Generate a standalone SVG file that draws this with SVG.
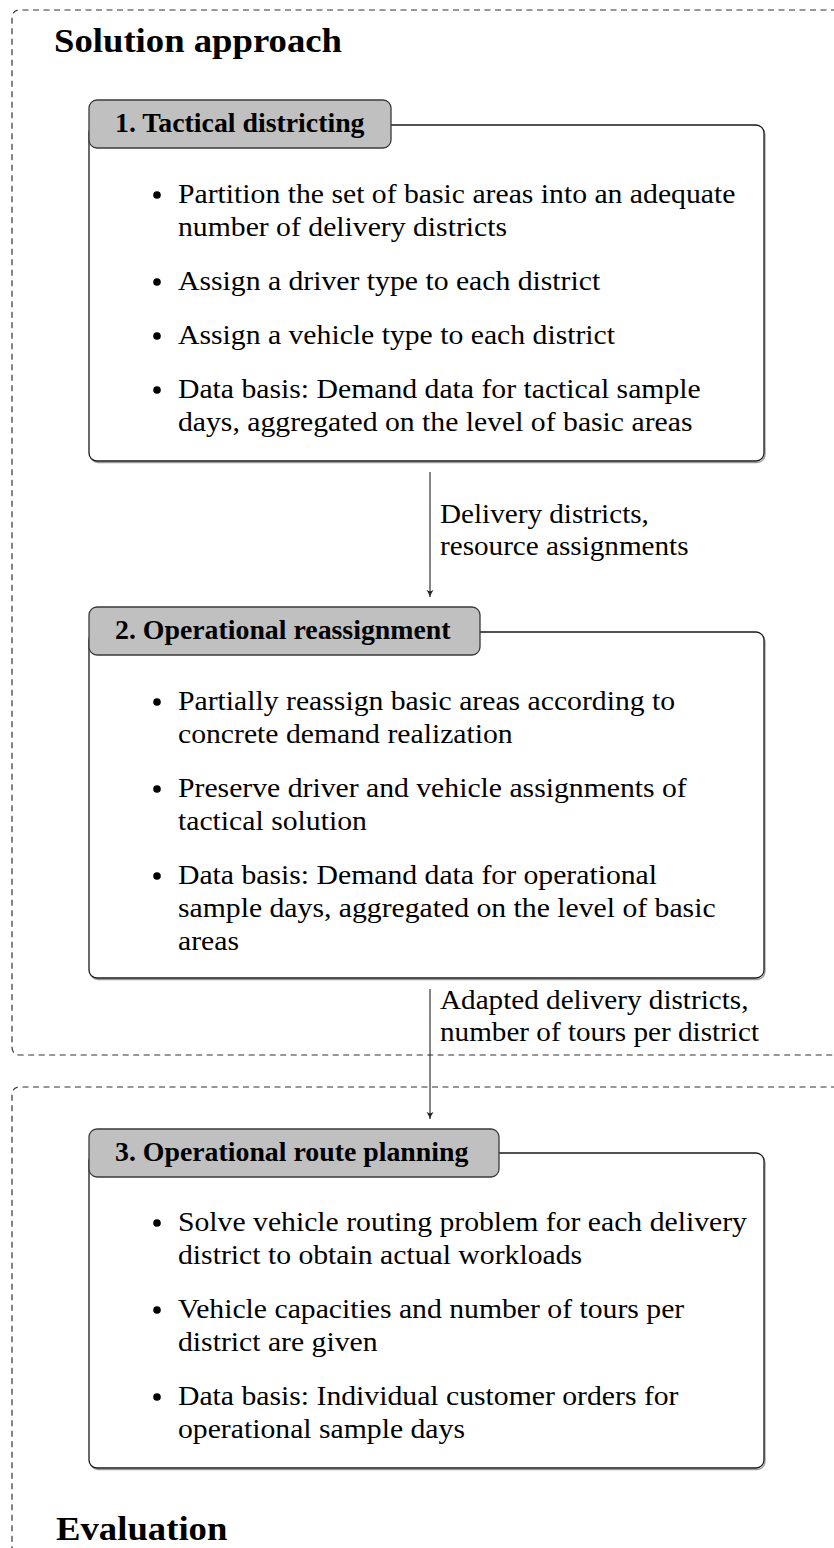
<svg xmlns="http://www.w3.org/2000/svg" width="834" height="1548" viewBox="0 0 834 1548">
<defs>
<style>
.frame{fill:none;stroke:#333;stroke-width:1.2;stroke-dasharray:6 4.5}
.box{fill:#fff;stroke:#1a1a1a;stroke-width:1.3}
.shadow{fill:none;stroke:#9a9a9a;stroke-width:1.3}
.tab{fill:#c0c0c0;stroke:#3a3a3a;stroke-width:1.3}
.h{font-family:"Liberation Serif",serif;font-weight:bold;font-size:34px;fill:#000}
.t{font-family:"Liberation Serif",serif;font-weight:bold;font-size:26.5px;fill:#000}
.b{font-family:"Liberation Serif",serif;font-size:27px;fill:#000}
.dot{fill:#000}
.conn{stroke:#222;stroke-width:1.1;fill:none}
</style>
<marker id="arr" markerWidth="10" markerHeight="10" refX="8" refY="5" orient="auto" markerUnits="userSpaceOnUse">
<path d="M1,1.5 Q5,4.2 8,5 Q5,5.8 1,8.5 L2.5,5 Z" fill="#222"/>
</marker>
</defs>
<rect width="834" height="1548" fill="#fff"/>

<g id="frame-solution">
<path class="frame" d="M900,10 L20,10 Q12,10 12,18 L12,1047 Q12,1055 20,1055 L900,1055"/>
<g transform="translate(54 0) scale(1.08 1)"><text class="h" x="0" y="52">Solution approach</text></g>
</g>

<g id="frame-evaluation">
<path class="frame" d="M900,1087 L20,1087 Q12,1087 12,1095 L12,1560"/>
<g transform="translate(56 0) scale(1.08 1)"><text class="h" x="0" y="1540">Evaluation</text></g>
</g>

<g id="node1">
<rect class="shadow" x="90" y="126.5" width="675" height="336" rx="8"/>
<rect class="box" x="89" y="125" width="675" height="336" rx="8"/>
<rect class="tab" x="89" y="100" width="302" height="48" rx="8"/>
<g transform="translate(115 0) scale(1.05 1)"><text class="t" x="0" y="132">1. Tactical districting</text></g>
<circle class="dot" cx="157" cy="195" r="3.8"/>
<circle class="dot" cx="157" cy="282" r="3.8"/>
<circle class="dot" cx="157" cy="336" r="3.8"/>
<circle class="dot" cx="157" cy="390" r="3.8"/>
<g transform="translate(178 0) scale(1.1 1)">
<text class="b" x="0" y="203">Partition the set of basic areas into an adequate</text>
<text class="b" x="0" y="236">number of delivery districts</text>
<text class="b" x="0" y="290">Assign a driver type to each district</text>
<text class="b" x="0" y="344">Assign a vehicle type to each district</text>
<text class="b" x="0" y="398">Data basis: Demand data for tactical sample</text>
<text class="b" x="0" y="431">days, aggregated on the level of basic areas</text>
</g>
</g>

<g id="node2">
<rect class="shadow" x="90" y="633.5" width="675" height="346" rx="8"/>
<rect class="box" x="89" y="632" width="675" height="346" rx="8"/>
<rect class="tab" x="89" y="607" width="391" height="48" rx="8"/>
<g transform="translate(115 0) scale(1.05 1)"><text class="t" x="0" y="639">2. Operational reassignment</text></g>
<circle class="dot" cx="157" cy="702" r="3.8"/>
<circle class="dot" cx="157" cy="789" r="3.8"/>
<circle class="dot" cx="157" cy="876" r="3.8"/>
<g transform="translate(178 0) scale(1.1 1)">
<text class="b" x="0" y="710">Partially reassign basic areas according to</text>
<text class="b" x="0" y="743">concrete demand realization</text>
<text class="b" x="0" y="797">Preserve driver and vehicle assignments of</text>
<text class="b" x="0" y="830">tactical solution</text>
<text class="b" x="0" y="884">Data basis: Demand data for operational</text>
<text class="b" x="0" y="917">sample days, aggregated on the level of basic</text>
<text class="b" x="0" y="950">areas</text>
</g>
</g>

<g id="node3">
<rect class="shadow" x="90" y="1154.5" width="675" height="315" rx="8"/>
<rect class="box" x="89" y="1153" width="675" height="315" rx="8"/>
<rect class="tab" x="89" y="1129" width="410" height="48" rx="8"/>
<g transform="translate(115 0) scale(1.05 1)"><text class="t" x="0" y="1161">3. Operational route planning</text></g>
<circle class="dot" cx="157" cy="1223" r="3.8"/>
<circle class="dot" cx="157" cy="1310" r="3.8"/>
<circle class="dot" cx="157" cy="1397" r="3.8"/>
<g transform="translate(178 0) scale(1.1 1)">
<text class="b" x="0" y="1231">Solve vehicle routing problem for each delivery</text>
<text class="b" x="0" y="1264">district to obtain actual workloads</text>
<text class="b" x="0" y="1318">Vehicle capacities and number of tours per</text>
<text class="b" x="0" y="1351">district are given</text>
<text class="b" x="0" y="1405">Data basis: Individual customer orders for</text>
<text class="b" x="0" y="1438">operational sample days</text>
</g>
</g>

<g id="connectors">
<line class="conn" x1="430" y1="472" x2="430" y2="597" marker-end="url(#arr)"/>
<g transform="translate(440 0) scale(1.08 1)">
<text class="b" x="0" y="523">Delivery districts,</text>
<text class="b" x="0" y="555">resource assignments</text>
</g>
<line class="conn" x1="430" y1="989" x2="430" y2="1119" marker-end="url(#arr)"/>
<g transform="translate(440 0) scale(1.08 1)">
<text class="b" x="0" y="1009">Adapted delivery districts,</text>
<text class="b" x="0" y="1041">number of tours per district</text>
</g>
</g>
</svg>
